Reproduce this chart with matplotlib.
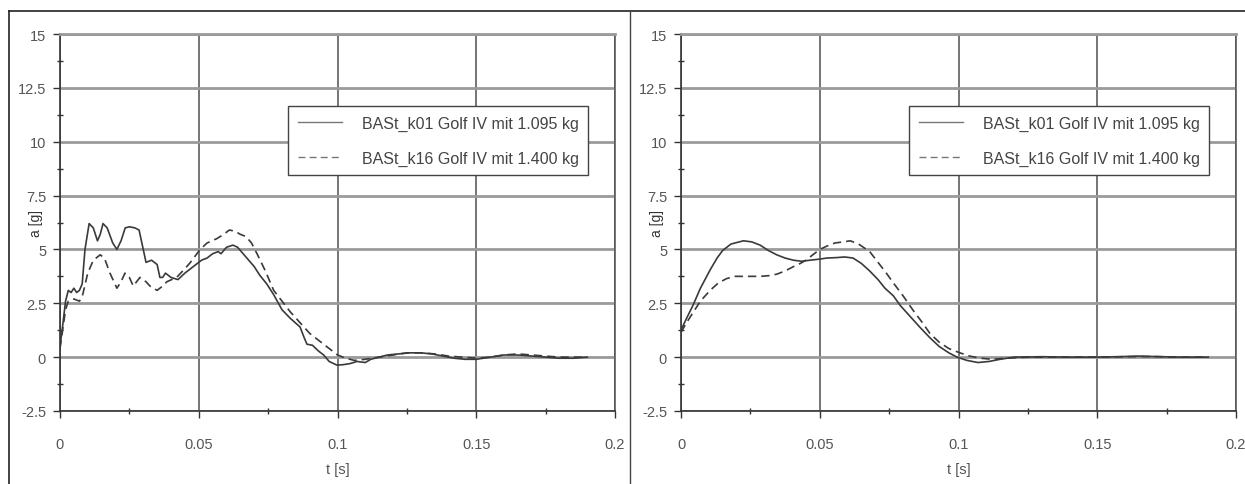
import matplotlib
matplotlib.use("Agg")
import matplotlib.pyplot as plt
from matplotlib.lines import Line2D
from matplotlib.ticker import MultipleLocator

plt.rcParams['font.family'] = ['Liberation Sans', 'DejaVu Sans']

# --- data ---
label_k01 = "BASt_k01 Golf IV mit 1.095 kg"
label_k16 = "BASt_k16 Golf IV mit 1.400 kg"

# left panel (raw signal)
t_left_k01 = [0.000, 0.001, 0.002, 0.003, 0.004, 0.005, 0.006, 0.007, 0.008, 0.009,
              0.0105, 0.012, 0.0135, 0.0145, 0.0155, 0.017, 0.019, 0.0205, 0.022, 0.0235,
              0.025, 0.027, 0.0285, 0.030, 0.031, 0.033, 0.035, 0.036, 0.037, 0.038,
              0.040, 0.0425, 0.045, 0.047, 0.049, 0.051, 0.053, 0.055, 0.057, 0.058,
              0.060, 0.0623, 0.064, 0.066, 0.068, 0.070, 0.072, 0.0745, 0.077, 0.080,
              0.083, 0.0865, 0.088, 0.089, 0.091, 0.093, 0.095, 0.097, 0.0998, 0.102,
              0.1045, 0.107, 0.110, 0.112, 0.115, 0.118, 0.122, 0.126, 0.130, 0.134,
              0.138, 0.142, 0.146, 0.150, 0.155, 0.160, 0.165, 0.170, 0.175, 0.180,
              0.185, 0.190]
a_left_k01 = [0.5, 1.5, 2.6, 3.1, 3.0, 3.2, 3.0, 3.1, 3.4, 5.0,
              6.2, 6.0, 5.4, 5.7, 6.2, 6.0, 5.3, 5.0, 5.4, 6.0,
              6.05, 6.0, 5.9, 5.0, 4.4, 4.5, 4.3, 3.7, 3.7, 3.9,
              3.7, 3.6, 3.9, 4.1, 4.3, 4.5, 4.6, 4.8, 4.9, 4.8,
              5.1, 5.2, 5.1, 4.8, 4.5, 4.2, 3.8, 3.4, 2.9, 2.2,
              1.8, 1.4, 0.9, 0.6, 0.55, 0.3, 0.1, -0.2, -0.37, -0.35,
              -0.3, -0.2, -0.25, -0.1, 0.0, 0.1, 0.15, 0.2, 0.2, 0.15,
              0.05, -0.05, -0.1, -0.1, 0.0, 0.1, 0.1, 0.05, 0.0, -0.05,
              -0.05, 0.0]

t_left_k16 = [0.000, 0.001, 0.002, 0.003, 0.005, 0.007, 0.008, 0.010, 0.012, 0.0145,
              0.016, 0.018, 0.0205, 0.022, 0.0234, 0.025, 0.0264, 0.0288, 0.031, 0.0324,
              0.035, 0.037, 0.0385, 0.042, 0.045, 0.047, 0.0505, 0.053, 0.0565, 0.059,
              0.061, 0.063, 0.065, 0.067, 0.069, 0.071, 0.074, 0.077, 0.080, 0.083,
              0.0865, 0.090, 0.093, 0.097, 0.100, 0.103, 0.106, 0.110, 0.115, 0.120,
              0.125, 0.130, 0.135, 0.140, 0.145, 0.150, 0.155, 0.160, 0.165, 0.170,
              0.175, 0.180, 0.185, 0.190]
a_left_k16 = [0.4, 1.3, 2.2, 2.6, 2.7, 2.6, 2.8, 3.9, 4.5, 4.75,
              4.6, 3.9, 3.2, 3.5, 3.9, 3.7, 3.3, 3.7, 3.5, 3.3,
              3.1, 3.3, 3.5, 3.7, 4.1, 4.4, 5.0, 5.3, 5.5, 5.7,
              5.9, 5.85, 5.7, 5.6, 5.3, 4.8, 4.0, 3.1, 2.6, 2.1,
              1.6, 1.1, 0.8, 0.4, 0.1, -0.05, -0.15, -0.1, 0.0, 0.1,
              0.2, 0.2, 0.15, 0.05, 0.0, -0.05, 0.0, 0.1, 0.15, 0.1,
              0.05, 0.0, 0.0, 0.0]

# right panel (filtered signal)
t_right_k01 = [0.000, 0.002, 0.0043, 0.007, 0.0105, 0.013, 0.015, 0.018, 0.0225, 0.0255,
               0.0285, 0.0315, 0.0345, 0.0375, 0.0405, 0.0435, 0.0465, 0.050, 0.0525, 0.056,
               0.059, 0.062, 0.065, 0.068, 0.071, 0.0735, 0.0765, 0.079, 0.0825, 0.086,
               0.0897, 0.093, 0.0965, 0.0995, 0.103, 0.107, 0.111, 0.115, 0.120, 0.130,
               0.140, 0.150, 0.160, 0.165, 0.170, 0.180, 0.190]
a_right_k01 = [1.25, 1.8, 2.4, 3.2, 4.05, 4.6, 4.95, 5.25, 5.4, 5.35,
               5.2, 4.95, 4.75, 4.6, 4.5, 4.45, 4.5, 4.55, 4.6, 4.62,
               4.65, 4.6, 4.35, 4.0, 3.6, 3.2, 2.85, 2.4, 1.9, 1.4,
               0.9, 0.5, 0.2, 0.0, -0.15, -0.25, -0.2, -0.1, 0.0, 0.02,
               0.0, 0.0, 0.03, 0.05, 0.03, 0.0, 0.0]

t_right_k16 = [0.000, 0.002, 0.004, 0.007, 0.0105, 0.0135, 0.0165, 0.0195, 0.0225, 0.0255,
               0.0285, 0.0315, 0.0345, 0.0375, 0.0405, 0.043, 0.045, 0.0475, 0.050, 0.0525,
               0.0555, 0.0585, 0.061, 0.064, 0.068, 0.071, 0.074, 0.0765, 0.080, 0.0835,
               0.087, 0.0897, 0.093, 0.0965, 0.1005, 0.104, 0.108, 0.112, 0.117, 0.125,
               0.140, 0.150, 0.160, 0.170, 0.180, 0.190]
a_right_k16 = [1.15, 1.6, 2.0, 2.6, 3.1, 3.45, 3.65, 3.75, 3.75, 3.75,
               3.75, 3.78, 3.85, 4.0, 4.2, 4.35, 4.5, 4.75, 5.0, 5.15,
               5.3, 5.35, 5.4, 5.25, 4.9, 4.4, 3.9, 3.45, 2.85, 2.2,
               1.6, 1.1, 0.7, 0.4, 0.2, 0.05, -0.05, -0.1, -0.05, 0.0,
               0.0, 0.0, 0.02, 0.03, 0.0, 0.0]

x_ticks = [0, 0.05, 0.1, 0.15, 0.2]
x_ticklabels = ["0", "0.05", "0.1", "0.15", "0.2"]
y_ticks = [-2.5, 0, 2.5, 5, 7.5, 10, 12.5, 15]
y_ticklabels = ["-2.5", "0", "2.5", "5", "7.5", "10", "12.5", "15"]

W, H = 1245, 485
fig = plt.figure(figsize=(W / 100, H / 100), dpi=100)

line_col = '#3a3a3a'
txt_col = '#555555'


def setup_axes(ax):
    ax.set_xlim(0, 0.2)
    ax.set_ylim(-2.5, 15)
    ax.set_xticks(x_ticks)
    ax.set_xticklabels(x_ticklabels)
    ax.set_yticks(y_ticks)
    ax.set_yticklabels(y_ticklabels)
    ax.xaxis.set_minor_locator(MultipleLocator(0.025))
    ax.yaxis.set_minor_locator(MultipleLocator(1.25))
    # horizontal grid lighter and thicker, vertical darker
    ax.yaxis.grid(True, color='#9a9a9a', linewidth=2.0)
    ax.xaxis.grid(True, color='#505050', linewidth=1.1)
    ax.set_axisbelow(True)
    for side in ['left', 'bottom']:
        ax.spines[side].set_color('#333333')
        ax.spines[side].set_linewidth(1.2)
    ax.spines['top'].set_color('#9a9a9a')
    ax.spines['top'].set_linewidth(2.0)
    ax.spines['right'].set_color('#505050')
    ax.spines['right'].set_linewidth(1.1)
    ax.tick_params(which='major', direction='out', length=5, width=1,
                   color='#333333', labelcolor=txt_col, labelsize=10.5)
    ax.tick_params(axis='x', which='major', pad=14)
    ax.tick_params(axis='y', which='major', pad=5)
    ax.tick_params(which='minor', direction='inout', length=5, width=1,
                   color='#333333')
    ax.set_xlabel("t [s]", color=txt_col, fontsize=10.5, labelpad=8)
    ax.set_ylabel("a [g]", color='#333333', fontsize=10)
    ax.yaxis.set_label_coords(-0.03, 0.5)


def add_legend(ax):
    leg = ax.legend(loc='upper left', bbox_to_anchor=(0.411, 0.809),
                    fontsize=11.5, frameon=True, fancybox=False,
                    handlelength=2.8, handletextpad=1.2, labelspacing=1.25,
                    borderpad=0.6, borderaxespad=0)
    leg.get_frame().set_edgecolor('#444444')
    leg.get_frame().set_linewidth(1.0)
    leg.get_frame().set_alpha(1)
    for txt in leg.get_texts():
        txt.set_color('#444444')
    for ln in leg.get_lines():
        ln.set_color('#777777')
        ln.set_linewidth(1.0)


ax_left = fig.add_axes([60 / W, 1 - 412 / H, 555 / W, 377 / H])
ax_left.plot(t_left_k01, a_left_k01, color=line_col, linewidth=1.2,
             linestyle='-', label=label_k01)
ax_left.plot(t_left_k16, a_left_k16, color=line_col, linewidth=1.2,
             linestyle=(0, (5, 3)), label=label_k16)
setup_axes(ax_left)
add_legend(ax_left)

ax_right = fig.add_axes([681 / W, 1 - 412 / H, 555 / W, 377 / H])
ax_right.plot(t_right_k01, a_right_k01, color=line_col, linewidth=1.2,
              linestyle='-', label=label_k01)
ax_right.plot(t_right_k16, a_right_k16, color=line_col, linewidth=1.2,
              linestyle=(0, (5, 3)), label=label_k16)
setup_axes(ax_right)
add_legend(ax_right)

# frame lines around the panels
top_y = 1 - 12 / H
fig.add_artist(Line2D([9 / W, 1], [top_y, top_y], transform=fig.transFigure,
                      color='#222222', linewidth=1.2))
fig.add_artist(Line2D([9 / W, 9 / W], [0, top_y], transform=fig.transFigure,
                      color='#222222', linewidth=1.2))
fig.add_artist(Line2D([630 / W, 630 / W], [0, top_y], transform=fig.transFigure,
                      color='#444444', linewidth=1.0))

fig.savefig("out.png", dpi=100)
